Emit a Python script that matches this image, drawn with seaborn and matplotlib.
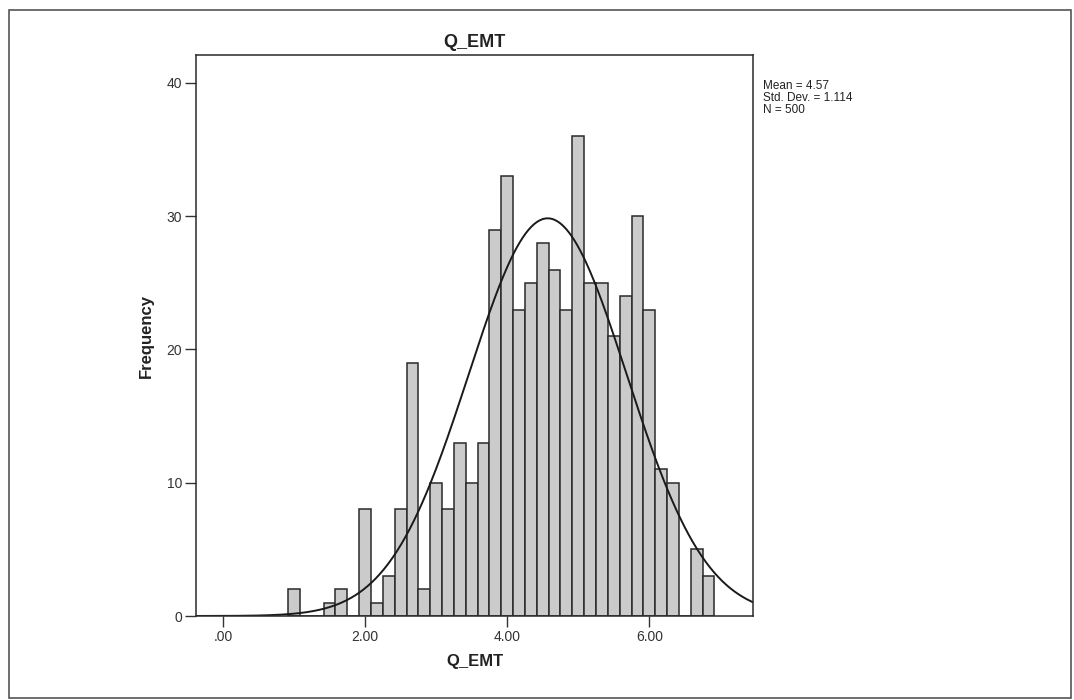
import numpy as np
import pandas as pd
import matplotlib
matplotlib.use("Agg")
import matplotlib.pyplot as plt
import seaborn as sns
from matplotlib.patches import Rectangle

# ---- data ----
# bin index k -> bin centre k/6 (scores in steps of 1/6)
bin_index = [6, 7, 8, 9, 10, 11, 12, 13, 14, 15, 16, 17, 18, 19, 20, 21, 22, 23,
             24, 25, 26, 27, 28, 29, 30, 31, 32, 33, 34, 35, 36, 37, 38, 39, 40, 41]
frequency = [2, 0, 0, 1, 2, 0, 8, 1, 3, 8, 19, 2, 10, 8, 13, 10, 13, 29,
             33, 23, 25, 28, 26, 23, 36, 25, 25, 21, 24, 30, 23, 11, 10, 0, 5, 3]
stat_mean = 4.57
stat_sd = 1.114
stat_n = 500
x_ticks = [0, 2, 4, 6]
x_tick_labels = [".00", "2.00", "4.00", "6.00"]
y_ticks = [0, 10, 20, 30, 40]
y_tick_labels = ["0", "10", "20", "30", "40"]
title = "Q_EMT"
x_label = "Q_EMT"
y_label = "Frequency"

sns.set_theme(style="white")
plt.rcParams["font.family"] = ["Liberation Sans", "DejaVu Sans"]

binw = 1 / 6
df = pd.DataFrame({"value": np.array(bin_index) / 6, "count": frequency})

fig = plt.figure(figsize=(10.74, 7.0), dpi=100)
ax = fig.add_axes([196 / 1074, 1 - 616 / 700, (753 - 196) / 1074, (616 - 55) / 700])

lo = (min(bin_index) - 0.5) / 6
hi = (max(bin_index) + 0.5) / 6
sns.histplot(data=df, x="value", weights="count", binwidth=binw, binrange=(lo, hi), ax=ax,
             color="#cbcbcb", alpha=1.0, edgecolor="#2a2a2a", linewidth=1.1)

# fitted normal curve (SPSS style), from the reported statistics
xs = np.linspace(-0.38, 7.46, 400)
ys = stat_n * binw / (stat_sd * np.sqrt(2 * np.pi)) * np.exp(-0.5 * ((xs - stat_mean) / stat_sd) ** 2)
sns.lineplot(x=xs, y=ys, ax=ax, color="#1a1a1a", linewidth=1.4)

ax.set_xlim(-0.38, 7.46)
ax.set_ylim(0, 42.1)
ax.set_xticks(x_ticks)
ax.set_xticklabels(x_tick_labels, fontsize=10, color="#333333")
ax.set_yticks(y_ticks)
ax.set_yticklabels(y_tick_labels, fontsize=10, color="#333333")
ax.tick_params(axis="both", direction="out", length=8, width=1, color="#333333",
               bottom=True, left=True, pad=2)
for s in ax.spines.values():
    s.set_visible(True)
    s.set_color("#2a2a2a")
    s.set_linewidth(1.1)
ax.set_title(title, fontsize=13, fontweight="bold", color="#222222", pad=6)
ax.set_xlabel(x_label, fontsize=12, fontweight="bold", color="#222222", labelpad=7)
ax.set_ylabel(y_label, fontsize=12, fontweight="bold", color="#222222", labelpad=9)

fig.text(763 / 1074, 1 - 80 / 700,
         f"Mean = {stat_mean:.2f}\nStd. Dev. = {stat_sd:.3f}\nN = {stat_n}",
         fontsize=8.5, color="#222222", va="top", ha="left", linespacing=0.98)

fig.patches.append(Rectangle((9 / 1074, 2 / 700), (1071 - 9) / 1074, (690 - 2) / 700,
                             transform=fig.transFigure, fill=False,
                             edgecolor="#555555", linewidth=1.2))

fig.savefig("out.png", dpi=100, facecolor="white")
